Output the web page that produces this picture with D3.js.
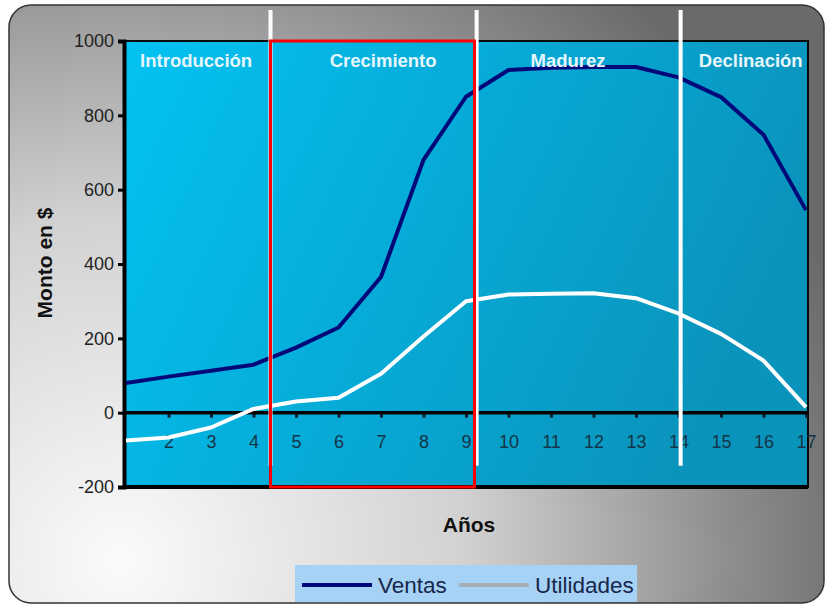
<!DOCTYPE html>
<html>
<head>
<meta charset="utf-8">
<script src="https://cdn.jsdelivr.net/npm/d3@7"></script>
<style>
  body { margin: 0; background: #fff; }
  svg { display: block; font-family: "Liberation Sans", Arial, sans-serif; }
</style>
</head>
<body>
<svg id="chart" width="827" height="605"></svg>
<script>
// chart data
var years = [1, 2, 3, 4, 5, 6, 7, 8, 9, 10, 11, 12, 13, 14, 15, 16, 17];
var ventas = [80, 97, 113, 129, 175, 229, 365, 680, 850, 922, 928, 930, 930, 902, 849, 748, 545];
var utilidades = [-75, -67, -40, 10, 30, 40, 105, 205, 300, 318, 320, 321, 308, 267, 212, 140, 15];
var yTicks = [-200, 0, 200, 400, 600, 800, 1000];
var xTickLabels = [2, 3, 4, 5, 6, 7, 8, 9, 10, 11, 12, 13, 14, 15, 16, 17];
var phases = ["Introducción", "Crecimiento", "Madurez", "Declinación"];
var phaseCenters = [2.65, 7.05, 11.4, 15.7];
var phaseBreaks = [4.4, 9.25, 14.05];
var highlight = [4.4, 9.2];

var svg = d3.select("#chart");
var defs = svg.append("defs");

var bg = defs.append("radialGradient").attr("id", "bg")
    .attr("gradientUnits", "userSpaceOnUse")
    .attr("cx", 120).attr("cy", 560).attr("r", 760);
bg.append("stop").attr("offset", "0").attr("stop-color", "#fbfbfb");
bg.append("stop").attr("offset", "0.45").attr("stop-color", "#d2d2d2");
bg.append("stop").attr("offset", "0.8").attr("stop-color", "#8e8e8e");
bg.append("stop").attr("offset", "1").attr("stop-color", "#6a6a6a");

var plotBg = defs.append("linearGradient").attr("id", "plotBg")
    .attr("x1", "0").attr("y1", "0").attr("x2", "1").attr("y2", "0.3");
plotBg.append("stop").attr("offset", "0").attr("stop-color", "#03c2f2");
plotBg.append("stop").attr("offset", "1").attr("stop-color", "#0a94bc");

var x = d3.scaleLinear().domain([1, 17]).range([126, 806]);
var y = d3.scaleLinear().domain([-200, 1000]).range([487, 41]);

// outer frame
svg.append("rect")
    .attr("x", 9).attr("y", 5).attr("width", 815).attr("height", 598)
    .attr("rx", 22).attr("ry", 22)
    .attr("fill", "url(#bg)").attr("stroke", "#333").attr("stroke-width", 1.5);

// plot area
svg.append("rect")
    .attr("x", x(1) - 2).attr("y", y(1000))
    .attr("width", x(17) - x(1) + 4).attr("height", y(-200) - y(1000))
    .attr("fill", "url(#plotBg)")
    .attr("stroke", "#0a0a0a").attr("stroke-width", 2);

// y axis (plain hyphen for negatives, like the original)
var yAxis = d3.axisLeft(y).tickValues(yTicks).tickSize(6).tickPadding(4).tickFormat(function (d) { return String(d); });
var gy = svg.append("g").attr("transform", "translate(" + (x(1) - 2) + ",0)").call(yAxis);
gy.select(".domain").attr("stroke", "#000").attr("stroke-width", 4);
gy.selectAll(".tick line").attr("stroke", "#000").attr("stroke-width", 3);
gy.selectAll(".tick text").attr("font-size", 18).attr("fill", "#222").attr("font-family", "Liberation Sans, Arial, sans-serif");

// bottom border
svg.append("line")
    .attr("x1", x(1) - 2).attr("x2", x(17) + 2)
    .attr("y1", y(-200)).attr("y2", y(-200))
    .attr("stroke", "#000").attr("stroke-width", 4);

// x axis on the zero line
var xAxis = d3.axisBottom(x).tickValues(xTickLabels).tickSize(5).tickPadding(18).tickFormat(function (d) { return String(d); });
var gx = svg.append("g").attr("transform", "translate(0," + y(0) + ")").call(xAxis);
gx.select(".domain").remove();
svg.append("line")
    .attr("x1", x(1) - 2).attr("x2", x(17) + 2)
    .attr("y1", y(0)).attr("y2", y(0))
    .attr("stroke", "#000").attr("stroke-width", 3.5);
gx.selectAll(".tick line").attr("stroke", "#0b2030").attr("stroke-width", 3);
gx.selectAll(".tick text").attr("font-size", 18).attr("fill", "#143447").attr("font-family", "Liberation Sans, Arial, sans-serif");

// lines
var line = function (vals) {
    return d3.line().x(function (d, i) { return x(years[i]); }).y(function (d) { return y(d); })(vals);
};
svg.append("path").attr("d", line(ventas))
    .attr("fill", "none").attr("stroke", "#00087a").attr("stroke-width", 4).attr("stroke-linejoin", "round");
svg.append("path").attr("d", line(utilidades))
    .attr("fill", "none").attr("stroke", "#ffffff").attr("stroke-width", 4).attr("stroke-linejoin", "round");

// phase dividers
svg.selectAll(".divider").data(phaseBreaks).enter().append("line")
    .attr("class", "divider")
    .attr("x1", function (d) { return x(d); }).attr("x2", function (d) { return x(d); })
    .attr("y1", y(1000) - 31).attr("y2", y(-143))
    .attr("stroke", "#fff").attr("stroke-width", 4);

// phase labels
svg.selectAll(".phase").data(phases).enter().append("text")
    .attr("class", "phase")
    .attr("x", function (d, i) { return x(phaseCenters[i]); })
    .attr("y", 67)
    .attr("text-anchor", "middle")
    .attr("font-size", 18.5).attr("font-weight", "bold")
    .attr("fill", "#e6f6fc")
    .text(function (d) { return d; });

// highlight box
svg.append("rect")
    .attr("x", x(highlight[0])).attr("y", y(1000))
    .attr("width", x(highlight[1]) - x(highlight[0]))
    .attr("height", y(-200) - y(1000))
    .attr("fill", "none").attr("stroke", "#ff0000").attr("stroke-width", 3);

// axis titles
svg.append("text")
    .attr("transform", "translate(52,263) rotate(-90)")
    .attr("text-anchor", "middle")
    .attr("font-size", 21).attr("font-weight", "bold").attr("fill", "#111")
    .text("Monto en $");
svg.append("text")
    .attr("x", 469).attr("y", 532)
    .attr("text-anchor", "middle")
    .attr("font-size", 21).attr("font-weight", "bold").attr("fill", "#111")
    .text("Años");

// legend
var legend = svg.append("g");
legend.append("rect")
    .attr("x", 295).attr("y", 565).attr("width", 342).attr("height", 37)
    .attr("fill", "#a6d2f6");
var items = [
    { name: "Ventas", color: "#00087a", x: 302 },
    { name: "Utilidades", color: "#a6aeb6", x: 459 }
];
items.forEach(function (it) {
    legend.append("line")
        .attr("x1", it.x).attr("x2", it.x + 70)
        .attr("y1", 585).attr("y2", 585)
        .attr("stroke", it.color).attr("stroke-width", 4);
    legend.append("text")
        .attr("x", it.x + 76).attr("y", 593)
        .attr("font-size", 22.5).attr("fill", "#17284c")
        .text(it.name);
});
</script>
</body>
</html>
